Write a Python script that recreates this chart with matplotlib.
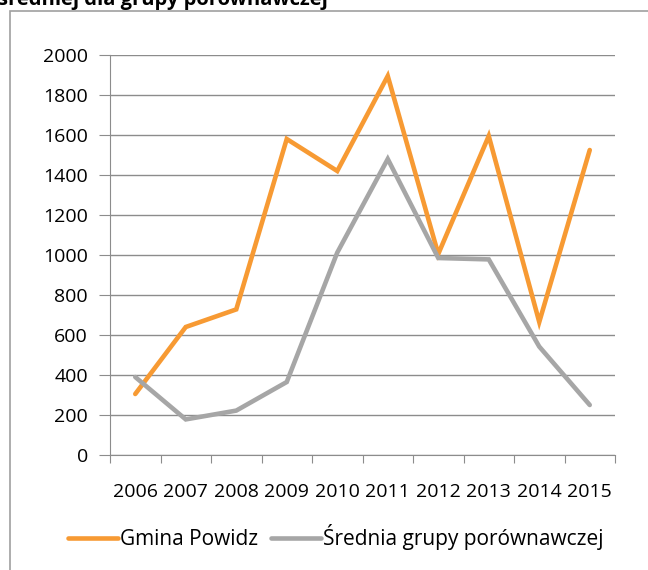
import matplotlib.pyplot as plt
from matplotlib.patches import Rectangle

plt.rcParams['font.family'] = ['Open Sans', 'DejaVu Sans']

lata = ['2006', '2007', '2008', '2009', '2010', '2011', '2012', '2013', '2014', '2015']
gmina = [305, 640, 728, 1580, 1420, 1895, 1005, 1595, 665, 1525]
srednia = [390, 178, 222, 365, 1012, 1480, 985, 978, 542, 250]

fig = plt.figure(figsize=(6.48, 5.70), dpi=100)

# ramka obszaru wykresu (ucięta z prawej i od dołu)
fig.patches.append(Rectangle((10 / 648, -0.05), 1.2, 1 - 11 / 570 + 0.05,
                             transform=fig.transFigure, fill=False,
                             edgecolor='#a0a0a0', lw=1.2))
fig.text(-0.003, 1 - 5 / 570, 'średniej dla grupy porównawczej', fontsize=14.5,
         fontweight='bold', va='baseline', ha='left')

ax = fig.add_axes([110 / 648, 1 - 455 / 570, 505 / 648, 400 / 570])
x = range(len(lata))
ax.plot(x, gmina, color='#f79a33', lw=3.3, label='Gmina Powidz', solid_capstyle='round', solid_joinstyle='miter')
ax.plot(x, srednia, color='#a6a6a6', lw=3.3, label='Średnia grupy porównawczej', solid_capstyle='round', solid_joinstyle='miter')

ax.set_xlim(-0.5, len(lata) - 0.5)
ax.set_ylim(0, 2000)
ax.set_yticks(range(0, 2001, 200))
ax.set_xticks([i - 0.5 for i in range(len(lata) + 1)])
ax.set_xticklabels([])
ax.set_xticks(list(x), minor=True)
ax.set_xticklabels(lata, minor=True)
ax.tick_params(axis='x', which='major', length=6, color='#8c8c8c', direction='out')
ax.tick_params(axis='x', which='minor', length=0, pad=20, labelsize=14)
ax.tick_params(axis='y', length=8, color='#8c8c8c', labelsize=14, pad=8)
ax.grid(axis='y', color='#8c8c8c', lw=1)
ax.set_axisbelow(True)
for s in ['top', 'right']:
    ax.spines[s].set_visible(False)
for s in ['left', 'bottom']:
    ax.spines[s].set_color('#8c8c8c')

ax.legend(loc='center', bbox_to_anchor=(336 / 648, 1 - 537 / 570),
          bbox_transform=fig.transFigure, ncol=2, frameon=False,
          fontsize=15, handlelength=2.4, handletextpad=0.1, columnspacing=0.6)

fig.savefig('out.png', dpi=100)
